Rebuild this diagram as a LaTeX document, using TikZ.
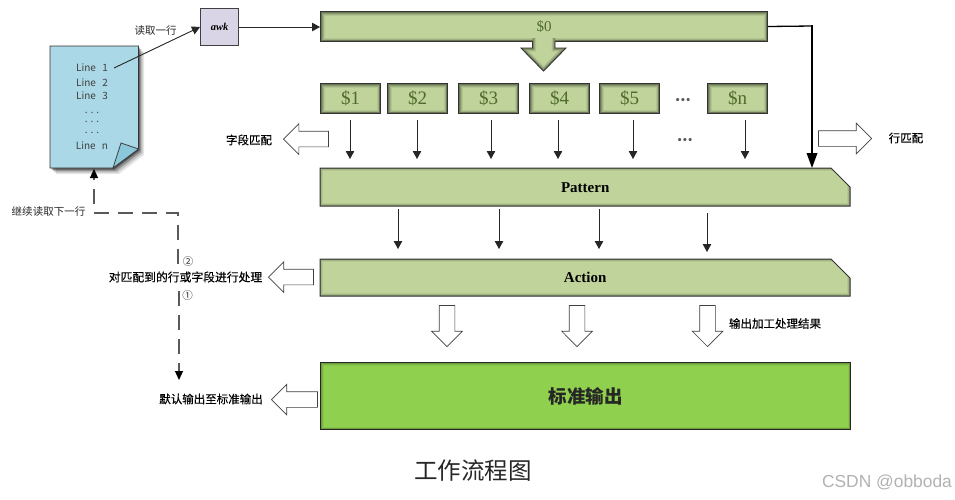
\documentclass[tikz,border=0pt]{standalone}
\usepackage{fontspec}
\setmainfont{Noto Sans CJK SC}
\newfontfamily\serifnum{Liberation Serif}
\newfontfamily\wmfont{Liberation Sans}
\usetikzlibrary{arrows.meta,shapes.arrows,calc}
\definecolor{barfill}{HTML}{C0D39B}
\definecolor{greenfill}{HTML}{8FD14F}
\definecolor{docfill}{HTML}{ABD8E6}
\definecolor{flapfill}{HTML}{8CC8DC}
\definecolor{awkfill}{HTML}{DAD5E6}
\definecolor{numcol}{HTML}{4F6B2A}
\newcommand{\chambar}[5]{% name, x, y, height, text
  \path[draw=black!80,line width=1pt,fill=barfill,glowcham]
    (#2,#3) -- (#2+511,#3) -- (#2+530,#3+19) -- (#2+530,#3+#4) -- (#2,#3+#4) -- cycle;
  \node[barlabel,minimum width=530pt,minimum height=#4pt,anchor=north west] (#1) at (#2,#3) {#5};}
\tikzset{
  x=1pt,y=-1pt,
  glowbox/.style={path picture={
    \foreach \w/\o in {8/.07,6/.10,4/.14,2.5/.22}{
      \draw[line width=\w pt,black,opacity=\o]
        (path picture bounding box.south west) rectangle (path picture bounding box.north east);}}},
  softglow/.style={path picture={
    \foreach \w/\o in {6/.05,4/.08,2.5/.12}{
      \draw[line width=\w pt,black,opacity=\o]
        (path picture bounding box.south west) rectangle (path picture bounding box.north east);}}},
  glowcham/.style={path picture={
    \foreach \w/\o in {6/.06,4/.09,2.5/.14}{
      \draw[line width=\w pt,black,opacity=\o]
        (path picture bounding box.south west) rectangle (path picture bounding box.north east);}}},
  boxbar/.style={draw=black!80,line width=1pt,fill=barfill,glowbox,inner sep=0pt,anchor=north west,
    text=numcol,font=\serifnum},
  fieldbox/.style={boxbar,minimum width=60pt,minimum height=30pt,font=\serifnum\fontsize{19}{20}\selectfont},
  barlabel/.style={inner sep=0pt,text=black,font=\serifnum\bfseries\fontsize{15}{16}\selectfont},
  thin arrow/.style={draw=black!85,line width=0.9pt,-{Triangle[length=8pt,width=8.5pt]}},
  dash arrow/.style={draw=black!65,line width=1.1pt,dash pattern=on 15pt off 9pt,-{Triangle[length=9pt,width=8pt,black]}},
  hollow/.style={single arrow,draw=black!75,fill=white,line width=0.7pt,inner xsep=0pt,inner ysep=7.5pt,
    single arrow head extend=7.5pt,anchor=tip},
  hollowdown/.style={hollow,inner xsep=7.5pt,inner ysep=0pt,shape border rotate=270,minimum height=41pt},
  lab/.style={font=\fontsize{11.5}{12}\selectfont\addfontfeature{FakeBold=0.3},text=black,inner sep=0pt},
  smalllab/.style={font=\fontsize{10.5}{11}\selectfont,text=black!85,inner sep=0pt},
  linetxt/.style={font=\fontsize{10}{11}\selectfont,text=black!75,inner sep=0pt},
  dotstxt/.style={inner sep=0pt,font=\bfseries\fontsize{15}{15}\selectfont,text=black!65},
}
\begin{document}
\begin{tikzpicture}
\useasboundingbox[fill=white] (0,0) rectangle (955,499);

% document sheet
\foreach \s/\o in {6/.10,4.5/.15,3/.25,1.5/.4}{
  \fill[black,opacity=\o] (50+\s,46+\s) -- (138+\s,46+\s) -- (138+\s,149+\s) -- (113+\s,168+\s) -- (50+\s,168+\s) -- cycle;}
\draw[draw=black!80,line width=0.9pt,fill=docfill] (50,46) -- (138.5,46) -- (138.5,149) -- (113,168) -- (50,168) -- cycle;
\draw[draw=black!75,line width=0.8pt,fill=flapfill] (113,168) -- (121,143) -- (138.5,149) -- cycle;
\coordinate (docbot) at (94,169);

\node[linetxt] (l1) at (92,68) {Line\hspace{4pt} 1};
\node[linetxt] (l2) at (92,82.5) {Line\hspace{4pt} 2};
\node[linetxt] (l3) at (92,96) {Line\hspace{4pt} 3};
\node[linetxt] (d1) at (92,113) {. . .};
\node[linetxt] (d2) at (92,122) {. . .};
\node[linetxt] (d3) at (92,133) {. . .};
\node[linetxt] (ln) at (92,146) {Line\hspace{4pt} n};

% awk
\node[draw=black!75,line width=1pt,fill=awkfill,minimum width=38pt,minimum height=37pt,inner sep=0pt,anchor=north west,
  font=\serifnum\bfseries\itshape\fontsize{10.5}{11}\selectfont] (awk) at (200,8) {awk};
\draw[thin arrow] ([xshift=6pt]l1.east) -- (awk.west);
\node[smalllab] (read) at (155.5,31) {读取一行};

% $0 and its big arrow
\node[boxbar,minimum width=447pt,minimum height=30pt,font=\serifnum\fontsize{15}{16}\selectfont] (s0) at (320,11) {\$0};
\draw[thin arrow] (awk.east) -- (awk.east -| s0.west);
\def\bigarrow{(532.5,38) -- (532.5,48) -- (521,48) -- (543.5,71) -- (566,48) -- (555,48) -- (555,38)}
\fill[barfill] \bigarrow -- cycle;
\begin{scope}
  \clip \bigarrow -- cycle;
  \foreach \w/\o in {7/.07,5/.12,3/.2}{
    \draw[line width=\w pt,black,opacity=\o] \bigarrow;}
\end{scope}
\draw[black!80,line width=0.9pt] (532.5,41) -- (532.5,48) -- (521,48) -- (543.5,71) -- (566,48) -- (555,48) -- (555,41);

% fields
\node[fieldbox] (f1) at (320,83) {\$1};
\node[fieldbox] (f2) at (387,83) {\$2};
\node[fieldbox] (f3) at (458,83) {\$3};
\node[fieldbox] (f4) at (529,83) {\$4};
\node[fieldbox] (f5) at (599,83) {\$5};
\node[fieldbox] (fn) at (707,83) {\$n};
\node[dotstxt] (dots1) at (683,100.5) {...};
\node[dotstxt] (dots2) at (685,140.5) {...};

% bars
\chambar{pat}{320}{168}{38}{Pattern}
\chambar{act}{320}{259}{37}{Action}
\node[draw=black!85,line width=1pt,fill=greenfill,inner sep=0pt,anchor=north west,minimum width=530pt,minimum height=67pt,
  softglow,font=\bfseries\fontsize{18.5}{19}\selectfont,text=black!85] (out) at (320,362) {标准输出};

% field arrows
\coordinate (pa1) at (350,159);
\coordinate (pa2) at (417,159);
\coordinate (pa3) at (491,159);
\coordinate (pa4) at (558,159);
\coordinate (pa5) at (633,159);
\coordinate (pa6) at (745,159);
\draw[thin arrow] (pa1 |- 0,120) -- (pa1);
\draw[thin arrow] (pa2 |- 0,120) -- (pa2);
\draw[thin arrow] (pa3 |- 0,120) -- (pa3);
\draw[thin arrow] (pa4 |- 0,120) -- (pa4);
\draw[thin arrow] (pa5 |- 0,120) -- (pa5);
\draw[thin arrow] (pa6 |- 0,120) -- (pa6);

% $0 to pattern
\coordinate (bend) at (812,26);
\coordinate (pathit) at (812,168);
\draw[black,line width=1.3pt] (s0.east) -- (bend);
\draw[black,line width=1.9pt,-{Triangle[length=15pt,width=10.5pt]}] ([yshift=0.6pt]bend) -- (pathit);

% pattern to action
\coordinate (q1) at (398,249);
\coordinate (q2) at (499,249);
\coordinate (q3) at (599,249);
\coordinate (q4) at (707,252);
\draw[thin arrow] (q1 |- 0,209) -- (q1);
\draw[thin arrow] (q2 |- 0,209) -- (q2);
\draw[thin arrow] (q3 |- 0,209) -- (q3);
\draw[thin arrow] (q4 |- 0,213) -- (q4);

% hollow arrows
\node[hollow,minimum height=45pt,shape border rotate=180] (h1) at (283,139) {};
\node[hollow,minimum height=53pt] (h2) at (872,138.5) {};
\node[hollow,minimum height=45pt,shape border rotate=180] (h3) at (268,277) {};
\node[hollow,minimum height=46pt,shape border rotate=180] (h4) at (271,399.5) {};
\node[hollowdown] (h5) at (447,347) {};
\node[hollowdown] (h6) at (577,347) {};
\node[hollowdown] (h7) at (707.5,347) {};

% labels
\node[lab] (t1) at (249,140) {字段匹配};
\node[lab] (t2) at (906,138) {行匹配};
\node[lab] (t4) at (775,323.5) {输出加工处理结果};
\node[lab] (t5) at (211,399) {默认输出至标准输出};
\node[smalllab] (t6) at (48.5,212) {继续读取下一行};

% dashed routes
\coordinate (c1) at (179,291);
\coordinate (c1e) at (179,380);
\coordinate (c2) at (178,264);
\coordinate (c3) at (178,213);
\coordinate (c4) at (94,213);
\draw[dash arrow] (c1) -- (c1e);
\draw[dash arrow] (c2) -- (c3) -- (c4) -- (docbot);
\node[lab,fill=white,inner xsep=1pt,inner ysep=1pt,font=\fontsize{11.8}{12}\selectfont\addfontfeature{FakeBold=0.3}] (t3) at (185.5,277) {对匹配到的行或字段进行处理};
\node[smalllab] (n2) at (188,262) {②};
\node[smalllab] (n1) at (187.5,296) {①};

% caption and mark
\node[inner sep=0pt,font=\fontsize{23.5}{24}\selectfont,text=black!85] (cap) at (473,471) {工作流程图};
\node[inner sep=0pt,font=\wmfont\fontsize{17.4}{18}\selectfont,text=black!30] (wm) at (887,482) {CSDN @obboda};
\end{tikzpicture}
\end{document}
